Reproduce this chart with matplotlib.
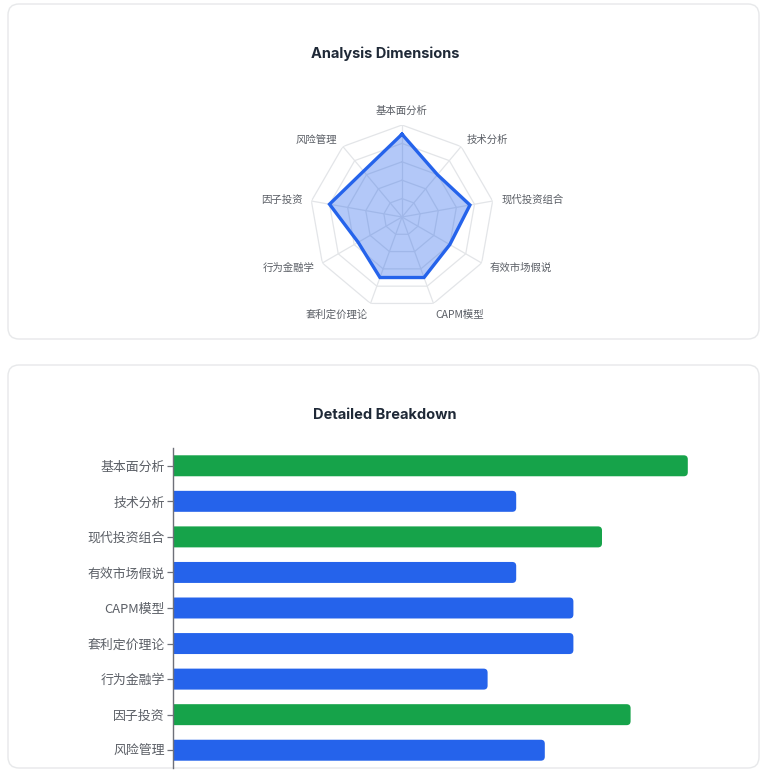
import numpy as np
import matplotlib
matplotlib.use("Agg")
import matplotlib.pyplot as plt
from matplotlib.patches import FancyBboxPatch

categories = ["基本面分析", "技术分析", "现代投资组合", "有效市场假说", "CAPM模型",
              "套利定价理论", "行为金融学", "因子投资", "风险管理"]
values = [9, 6, 7.5, 6, 7, 7, 5.5, 8, 6.5]
highlight_threshold = 7.5
radar_max = 10
ring_levels = [2, 4, 6, 8, 10]
title_top = "Analysis Dimensions"
title_bottom = "Detailed Breakdown"

CJK = ["Noto Sans CJK SC", "DejaVu Sans"]
TITLE_FONT = ["Inter", "Noto Sans CJK SC", "DejaVu Sans"]
BLUE = "#2563eb"
GREEN = "#16a34a"
GRID = "#e3e5e8"
LABEL = "#5b5f66"

W, H = 768, 771
fig = plt.figure(figsize=(W / 100, H / 100), dpi=100)
fig.patch.set_facecolor("white")

# background axes in pixel coordinates for cards and titles
bg = fig.add_axes([0, 0, 1, 1], zorder=-5)
bg.set_xlim(0, W)
bg.set_ylim(H, 0)
bg.axis("off")
for (x0, y0, x1, y1) in [(8, 4, 759, 339), (8, 365, 759, 768)]:
    bg.add_patch(FancyBboxPatch((x0, y0), x1 - x0, y1 - y0,
                                boxstyle="round,pad=0,rounding_size=11",
                                facecolor="white", edgecolor="#e7e8ea", linewidth=1.0))
bg.text(385, 54, title_top, ha="center", va="center", fontsize=10.5,
        fontweight="bold", color="#1f2937", family=TITLE_FONT)
bg.text(385, 415, title_bottom, ha="center", va="center", fontsize=10.5,
        fontweight="bold", color="#1f2937", family=TITLE_FONT)

# ---------------- radar ----------------
cx, cy, R = 402, 217, 92
rax = fig.add_axes([(cx - R) / W, 1 - (cy + R) / H, 2 * R / W, 2 * R / H],
                   projection="polar", zorder=2)
rax.set_theta_offset(np.pi / 2)
rax.set_theta_direction(-1)
rax.set_ylim(0, radar_max)
rax.grid(False)
rax.set_xticks([])
rax.set_yticks([])
rax.spines["polar"].set_visible(False)
rax.patch.set_alpha(0)

n = len(categories)
angles = np.arange(n) * 2 * np.pi / n
for lvl in ring_levels:
    th = np.append(angles, angles[0])
    rax.plot(th, [lvl] * (n + 1), color=GRID, lw=0.9, zorder=1)
for a in angles:
    rax.plot([a, a], [0, radar_max], color=GRID, lw=0.9, zorder=1)

th = np.append(angles, angles[0])
vals = np.append(values, values[0])
rax.fill(th, vals, color=BLUE, alpha=0.35, zorder=2, lw=0)
rax.plot(th, vals, color=BLUE, lw=2.4, zorder=3, solid_joinstyle="miter")

for a, lab in zip(angles, categories):
    s, c = np.sin(a), np.cos(a)
    ha = "center" if abs(s) < 0.1 else ("left" if s > 0 else "right")
    va = "bottom" if c > 0.9 else ("top" if c < -0.9 else "center")
    r = radar_max * (1.07 if c < -0.8 else 1.1)
    rax.text(a, r, lab, ha=ha, va=va, fontsize=7.5, color=LABEL,
             family=CJK, clip_on=False)

# ---------------- bars ----------------
left_px, right_px = 173, 745
top_px, bot_px = 448, 768
bax = fig.add_axes([left_px / W, 1 - bot_px / H, (right_px - left_px) / W,
                    (bot_px - top_px) / H], zorder=2)
bax.set_xlim(0, 10)
bax.set_ylim(len(categories) - 0.5, -0.5)
bh = 0.59
px_x = 10 / (right_px - left_px)
px_y = len(categories) / (bot_px - top_px)
for i, v in enumerate(values):
    col = GREEN if v >= highlight_threshold else BLUE
    p = FancyBboxPatch((-0.2, i - bh / 2), v + 0.2, bh,
                       boxstyle=f"round,pad=0,rounding_size={4 * px_x:.4f}",
                       mutation_aspect=px_y / px_x,
                       facecolor=col, edgecolor="none", zorder=2)
    bax.add_patch(p)
bax.set_yticks(range(len(categories)))
bax.set_yticklabels(categories, family=CJK, fontsize=9.3, color=LABEL)
bax.tick_params(axis="y", length=4, width=0.9, color="#6e7079", pad=2)
bax.set_xticks([])
for sp in ["top", "right", "bottom"]:
    bax.spines[sp].set_visible(False)
bax.spines["left"].set_color("#6e7079")
bax.spines["left"].set_linewidth(1.0)
bax.patch.set_alpha(0)

fig.savefig("out.png", dpi=100, facecolor="white")
